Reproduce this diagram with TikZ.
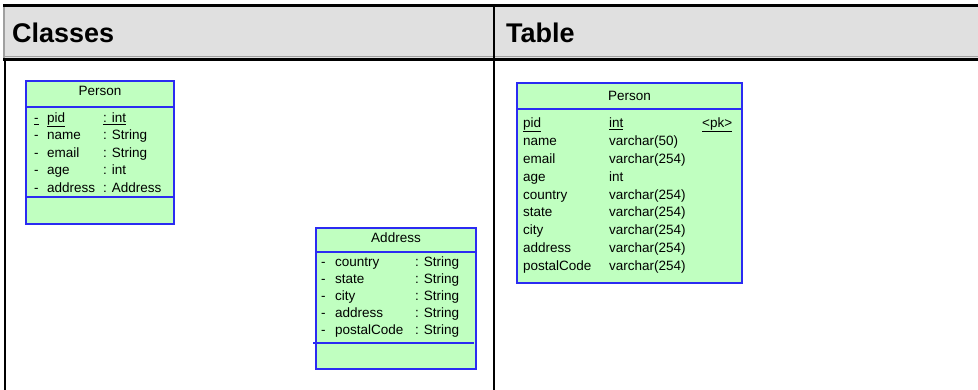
\documentclass[tikz,border=0pt]{standalone}
\usepackage{fontspec}
\setmainfont{Liberation Sans}
\definecolor{umlfill}{HTML}{C0FFC0}
\definecolor{umlline}{HTML}{2B2BF2}
\definecolor{hdrfill}{HTML}{E0E0E0}
\definecolor{hdrline}{HTML}{A0A0A0}
\begin{document}
\begin{tikzpicture}[x=1pt,y=-1pt,
    txt/.style={inner sep=0pt,anchor=base west,font=\fontsize{13.5}{15}\selectfont},
    ttl/.style={inner sep=0pt,anchor=base,font=\fontsize{13.5}{15}\selectfont},
    hdr/.style={inner sep=0pt,anchor=base west,font=\bfseries\fontsize{27}{30}\selectfont},
    box/.style={draw=umlline,fill=umlfill,line width=1.2pt},
    sep/.style={draw=umlline,line width=1.2pt}]
  % Tamaño de la imagen
  \useasboundingbox (0,0) rectangle (978,390);

  % Cabecera gris de las dos columnas
  \fill[hdrfill] (4,6) rectangle (978,58);
  \draw[hdrline,line width=1pt] (4,56.5) -- (978,56.5);
  \draw[hdrline,line width=2pt] (4,6) -- (4,58);
  \draw[line width=3pt] (3,6) -- (978,6);
  \draw[line width=3pt] (3,60) -- (978,60);
  \draw[line width=2pt] (4.5,60) -- (4.5,390);
  \draw[line width=2.5pt] (494,5) -- (494,390);
  \node[hdr] (hclasses) at (12,43) {Classes};
  \node[hdr] (htable) at (506,43) {Table};

  % Clase Person
  \draw[box] (26,81) rectangle (174,224);
  \draw[sep] (26,107) -- (174,107);
  \draw[sep] (26,197) -- (174,197);
  \node[ttl] (cperson) at (100,96) {Person};
  \foreach \n/\t [count=\i from 0] in {\underline{pid}/\underline{: int},
      name/: String, email/: String, age/: int, address/: Address} {
    \pgfmathsetmacro{\yb}{122.5+17.4*\i}
    \ifnum\i=0
      \node[txt] (cp-d\i) at (34,\yb) {\underline{-}};
    \else
      \node[txt] (cp-d\i) at (34,\yb) {-};
    \fi
    \node[txt] (cp-n\i) at (47,\yb) {\n};
    \node[txt] (cp-t\i) at (103,\yb) {\t};
  }

  % Clase Address
  \draw[box] (316,228) rectangle (476,369);
  \draw[sep] (316,252) -- (476,252);
  \draw[sep] (313,343) -- (474,343);
  \node[ttl] (caddress) at (396,242.5) {Address};
  \foreach \n [count=\i from 0] in {country, state, city, address, postalCode} {
    \pgfmathsetmacro{\yb}{266.5+17*\i}
    \node[txt] (ca-d\i) at (321,\yb) {-};
    \node[txt] (ca-n\i) at (335,\yb) {\n};
    \node[txt] (ca-t\i) at (415,\yb) {: String};
  }

  % Tabla Person
  \draw[box] (517,83) rectangle (742,283);
  \draw[sep] (517,109) -- (742,109);
  \node[ttl] (tperson) at (629.5,100.5) {Person};
  \foreach \n/\t [count=\i from 0] in {\underline{pid}/\underline{int},
      name/varchar(50), email/varchar(254), age/int, country/varchar(254),
      state/varchar(254), city/varchar(254), address/varchar(254),
      postalCode/varchar(254)} {
    \pgfmathsetmacro{\yb}{127.5+17.9*\i}
    \node[txt] (tp-n\i) at (523,\yb) {\n};
    \node[txt] (tp-t\i) at (609,\yb) {\t};
  }
  \node[txt] (tp-pk) at (702,127.5) {\underline{<pk>}};
\end{tikzpicture}
\end{document}
